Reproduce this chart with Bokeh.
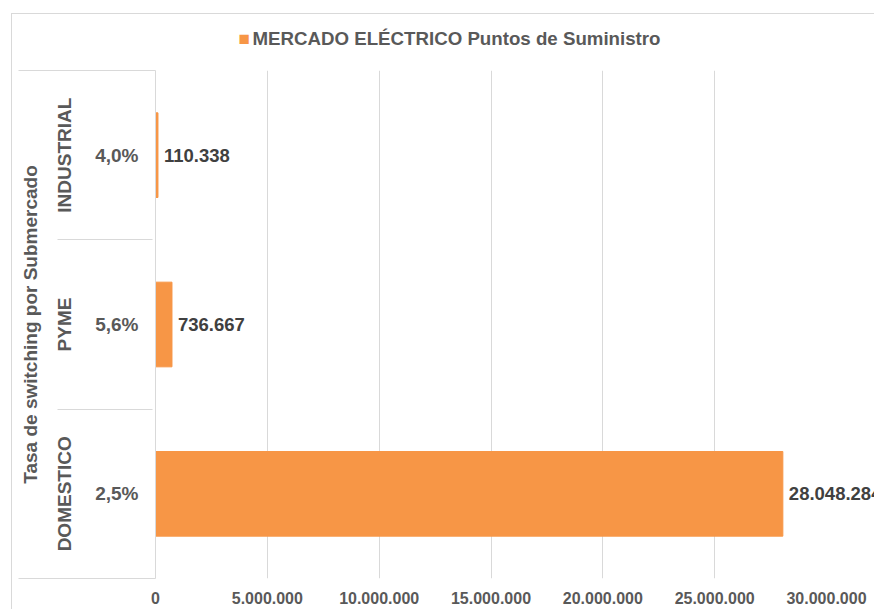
import numpy as np
from bokeh.plotting import figure
from bokeh.models import FactorRange, Range1d, FixedTicker, ColumnDataSource
from bokeh.core.properties import value
from bokeh.embed import file_html
from bokeh.resources import INLINE

# ---- data ----
submercados = ["DOMESTICO", "PYME", "INDUSTRIAL"]
tasas = ["2,5%", "5,6%", "4,0%"]
puntos = [28048284, 736667, 110338]
serie = "MERCADO ELÉCTRICO Puntos de Suministro"
axis_title = "Tasa de switching por Submercado"
x_ticks = [0, 5000000, 10000000, 15000000, 20000000, 25000000, 30000000]
x_tick_labels = ["0", "5.000.000", "10.000.000", "15.000.000",
                 "20.000.000", "25.000.000", "30.000.000"]

FONT = "Liberation Sans"
ORANGE = "#F79646"
GRID = "#D9D9D9"
TXT = "#595959"

factors = list(zip(submercados, tasas))
value_labels = [f"{v:,}".replace(",", ".") for v in puntos]
src = ColumnDataSource(dict(y=factors, x=puntos, lab=value_labels))

p = figure(
    y_range=FactorRange(factors=factors, range_padding=0, group_padding=0,
                        subgroup_padding=0, factor_padding=0),
    x_range=Range1d(0, 30000000),
    width=863, height=596,
    output_backend="svg", toolbar_location=None,
    min_border_left=143, min_border_right=49,
    min_border_top=56, min_border_bottom=32,
)
p.margin = (13, 0, 0, 11)
p.styles = {"border-top": "1px solid #D9D9D9", "border-left": "1px solid #D9D9D9"}
p.outline_line_color = None

r = p.hbar(y="y", right="x", left=0, height=0.5, source=src,
           fill_color=ORANGE, line_color=ORANGE)

p.text(x="x", y="y", text="lab", source=src, x_offset=6,
       text_baseline="middle", text_align="left", text_font=value(FONT),
       text_font_size="18.5px", text_font_style="bold", text_color="#404040",
       level="overlay")

# outer separators at the top and bottom of the category axis
top_edge = factors[-1] + (0.5,)
edges = ColumnDataSource(dict(y=[factors[0] + (-0.5,), top_edge], x=[0, 0]))
p.ray(x="x", y="y", source=edges, length=137, length_units="screen",
      angle=np.pi, line_color=GRID, line_width=1, level="overlay")

# legend (swatch + series name) above the plot area
leg = ColumnDataSource(dict(x=[0], y=[top_edge], sw=["\u25A0"], name=[serie]))
p.text(x="x", y="y", text="sw", source=leg, x_offset=83, y_offset=-32,
       text_baseline="middle", text_align="left", text_font=value(FONT),
       text_font_size="19px", text_color=ORANGE, level="overlay")
p.text(x="x", y="y", text="name", source=leg, x_offset=97, y_offset=-32,
       text_baseline="middle", text_align="left", text_font=value(FONT),
       text_font_size="18.7px", text_font_style="bold", text_color=TXT,
       level="overlay")

# x axis
p.xaxis.ticker = FixedTicker(ticks=x_ticks)
p.xaxis.major_label_overrides = dict(zip(x_ticks, x_tick_labels))
p.xaxis.major_label_text_font = FONT
p.xaxis.major_label_text_font_size = "16px"
p.xaxis.major_label_text_font_style = "bold"
p.xaxis.major_label_text_color = TXT
p.xaxis.axis_line_color = None
p.xaxis.major_tick_line_color = None
p.xaxis.minor_tick_line_color = None
p.xaxis.major_tick_out = 0
p.xaxis.major_tick_in = 0
p.xaxis.minor_tick_out = 0
p.xaxis.major_label_standoff = 13
p.xgrid.ticker = FixedTicker(ticks=x_ticks)
p.xgrid.grid_line_color = GRID
p.ygrid.grid_line_color = None

# y axis
p.yaxis.axis_label = axis_title
p.yaxis.axis_label_text_font = FONT
p.yaxis.axis_label_text_font_size = "19px"
p.yaxis.axis_label_text_font_style = "bold"
p.yaxis.axis_label_text_color = TXT
p.yaxis.axis_label_standoff = 10
p.yaxis.major_label_text_font = FONT
p.yaxis.major_label_text_font_size = "19px"
p.yaxis.major_label_text_font_style = "bold"
p.yaxis.major_label_text_color = TXT
p.yaxis.major_label_standoff = 17
p.yaxis.major_tick_out = 0
p.yaxis.major_tick_in = 0
p.yaxis.group_text_font = FONT
p.yaxis.group_text_font_size = "19px"
p.yaxis.group_text_font_style = "bold"
p.yaxis.group_text_color = TXT
p.yaxis.major_tick_line_color = None
p.yaxis.axis_line_color = GRID
p.yaxis.separator_line_color = GRID
p.yaxis.separator_line_width = 1

open("out.html", "w").write(file_html(p, INLINE))
